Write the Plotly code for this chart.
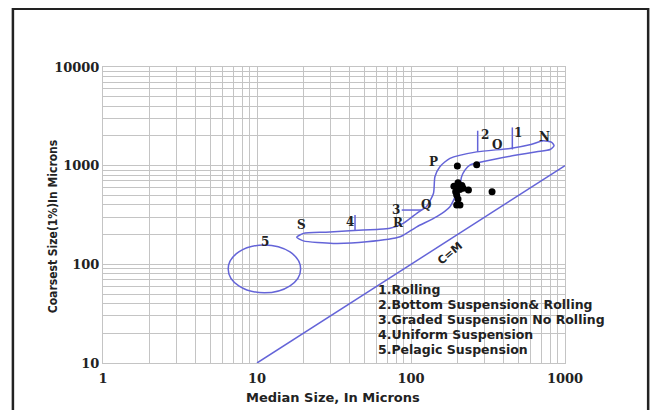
import numpy as np
import plotly.graph_objects as go

# ---- data ----
envelope_x = [18.1, 20, 28, 40, 60, 73, 89, 109, 117, 126, 140, 143, 154, 179, 267, 440, 600, 723, 820, 849,
              800, 655, 485, 295, 241, 224, 213, 208, 193, 179, 147, 109, 85, 51.6, 31.3, 20, 18.1]
envelope_y = [188, 206, 212, 219, 226, 232, 260, 329, 355, 384, 525, 773, 977, 1186, 1380, 1495, 1640, 1787, 1722, 1592,
              1459, 1383, 1280, 1100, 1014, 902, 773, 640, 480, 384, 304, 240, 190, 169, 163, 173, 188]

cm_x = [10, 1000]
cm_y = [10, 1000]

sample_x = [200, 267, 190, 202, 214, 195, 207, 198, 218, 236, 336, 198, 208, 202, 205]
sample_y = [990, 1020, 620, 670, 630, 545, 575, 505, 590, 566, 545, 400, 400, 460, 610]

mark1_x, mark1_y = [455, 455], [1460, 2440]
mark2_x, mark2_y = [271, 271], [1380, 2260]
mark3_x, mark3_y = [87, 117], [355, 355]
mark4_x, mark4_y = [43.3, 43.3], [223, 316]

pelagic_x = [6.5, 19.2]
pelagic_y = [51.5, 157]

point_labels = ["S", "4", "3", "R", "Q", "P", "2", "O", "1", "N", "5"]
point_label_x = [19.5, 40.2, 79.5, 82.7, 126, 140, 302, 360, 497, 741, 11.3]
point_label_y = [250, 270, 355, 260, 398, 1097, 2040, 1620, 2123, 1963, 169]

legend_lines = ["1.Rolling", "2.Bottom Suspension& Rolling", "3.Graded Suspension No Rolling",
                "4.Uniform Suspension", "5.Pelagic Suspension"]

x_tickvals = [1, 10, 100, 1000]
x_ticktext = ["1", "10", "100", "1000"]
y_tickvals = [10, 100, 1000, 10000]
y_ticktext = ["10", "100", "1000", "10000"]

# ---- figure ----
BLUE = "#6464d8"
GRID = "#c4c4c4"

fig = go.Figure()
fig.add_trace(go.Scatter(x=envelope_x, y=envelope_y, mode="lines",
                         line=dict(color=BLUE, width=1.5, shape="spline", smoothing=0.6),
                         hoverinfo="skip", showlegend=False))
fig.add_trace(go.Scatter(x=cm_x, y=cm_y, mode="lines", line=dict(color=BLUE, width=1.5),
                         showlegend=False))
for mx, my in [(mark1_x, mark1_y), (mark2_x, mark2_y), (mark3_x, mark3_y), (mark4_x, mark4_y)]:
    fig.add_trace(go.Scatter(x=mx, y=my, mode="lines", line=dict(color=BLUE, width=1.5),
                             showlegend=False))
fig.add_trace(go.Scatter(x=sample_x, y=sample_y, mode="markers",
                         marker=dict(color="black", size=7), showlegend=False))

# Pelagic suspension circle
fig.add_shape(type="circle", xref="x", yref="y",
              x0=pelagic_x[0], x1=pelagic_x[1], y0=pelagic_y[0], y1=pelagic_y[1],
              line=dict(color=BLUE, width=1.5))

# outer frame
fig.add_shape(type="rect", xref="paper", yref="paper",
              x0=-0.195, x1=1.18, y0=-0.25, y1=1.197,
              line=dict(color="#222222", width=2.5))

label_font = dict(family="DejaVu Serif", size=12, color="#222222")
for t, lx, ly in zip(point_labels, point_label_x, point_label_y):
    fig.add_annotation(x=np.log10(lx), y=np.log10(ly), text=f"<b>{t}</b>", showarrow=False,
                       font=label_font)

fig.add_annotation(x=np.log10(179), y=np.log10(129), text="<b>C=M</b>", showarrow=False,
                   textangle=-40, font=dict(family="DejaVu Sans", size=11, color="#222222"))

legend_top = 0.247
legend_step = 0.05
for i, t in enumerate(legend_lines):
    fig.add_annotation(xref="paper", yref="paper", x=0.592, y=legend_top - i * legend_step,
                       xanchor="left", yanchor="middle", text=f"<b>{t}</b>", showarrow=False,
                       borderpad=0,
                       font=dict(family="DejaVu Sans", size=12.5, color="#222222"))

fig.add_annotation(xref="paper", yref="paper", x=0.498, y=-0.118, text="<b>Median Size, In Microns</b>",
                   showarrow=False, xanchor="center", yanchor="middle",
                   font=dict(family="DejaVu Sans", size=13, color="#222222"))
fig.add_annotation(xref="paper", yref="paper", x=-0.108, y=0.459, text="<b>Coarsest Size(1%)In Microns</b>",
                   showarrow=False, textangle=-90, xanchor="center", yanchor="middle",
                   font=dict(family="Liberation Sans Narrow, DejaVu Sans Condensed, sans-serif", size=12,
                             color="#222222"))

tick_font = dict(family="DejaVu Serif", size=13, color="#222222")
fig.update_xaxes(type="log", range=[0, 3], tickvals=x_tickvals, ticktext=[f"<b>{t}</b>" for t in x_ticktext],
                 showgrid=True, gridcolor=GRID, gridwidth=1,
                 minor=dict(dtick="D1", showgrid=True, gridcolor=GRID, gridwidth=1, ticks=""),
                 showline=True, linecolor=GRID, linewidth=1, mirror=True, ticks="",
                 tickfont=tick_font, zeroline=False, fixedrange=True, ticklabelstandoff=3)
fig.update_yaxes(type="log", range=[1, 4], tickvals=y_tickvals, ticktext=[f"<b>{t}</b>" for t in y_ticktext],
                 showgrid=True, gridcolor=GRID, gridwidth=1,
                 minor=dict(dtick="D1", showgrid=True, gridcolor=GRID, gridwidth=1, ticks=""),
                 showline=True, linecolor=GRID, linewidth=1, mirror=True, ticks="",
                 tickfont=tick_font, zeroline=False, fixedrange=True, ticklabelstandoff=0)

# the page body adds an 8px margin; the figure is sized so the page fits the window exactly
fig.update_layout(width=642, height=402, margin=dict(l=95, r=85, t=59, b=47),
                  plot_bgcolor="white", paper_bgcolor="white", showlegend=False)

fig.write_html("out.html")
